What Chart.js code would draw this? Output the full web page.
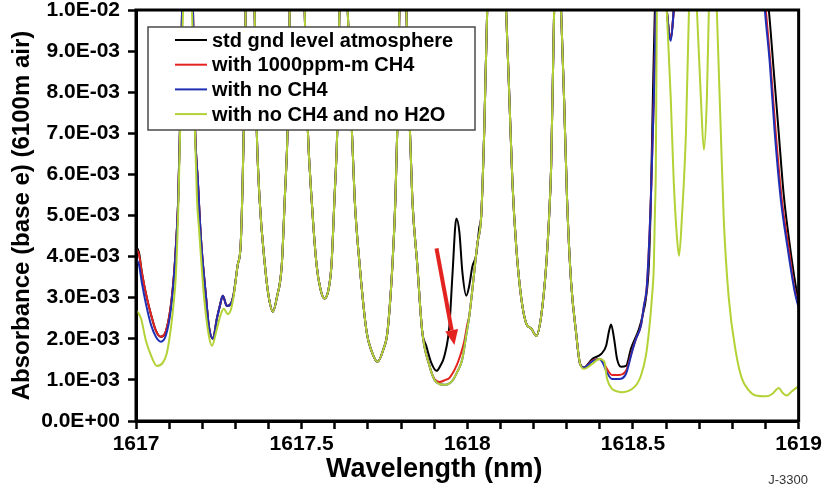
<!DOCTYPE html>
<html>
<head>
<meta charset="utf-8">
<script src="https://cdn.jsdelivr.net/npm/chart.js@4.4.1/dist/chart.umd.min.js"></script>
<style>
  body { margin: 0; background: #fff; }
  canvas { display: block; }
</style>
</head>
<body>
<canvas id="spectrum" width="825" height="492"></canvas>
<script>
// wavelengths in nm, absorbance in units of 1E-03 (scaled when the chart data is built)

// stretches where all four runs lie on top of each other
const sharedNmA = [1617.307, 1617.316, 1617.325, 1617.331, 1617.343, 1617.358, 1617.364, 1617.373, 1617.389, 1617.401,
  1617.413, 1617.425, 1617.440, 1617.449, 1617.458, 1617.464, 1617.485, 1617.509, 1617.518, 1617.530,
  1617.545, 1617.557, 1617.569, 1617.581, 1617.590, 1617.599, 1617.608, 1617.614, 1617.627, 1617.639,
  1617.651, 1617.660, 1617.675, 1617.696, 1617.711, 1617.729, 1617.747, 1617.759, 1617.774, 1617.783,
  1617.789, 1617.795, 1617.804, 1617.816, 1617.825, 1617.834, 1617.849, 1617.864];
const sharedAbsA = [3.8, 4.3, 7.0, 10, 14, 10, 7.2, 5.4, 3.8, 3.0,
  2.66, 3.0, 3.8, 5.4, 7.2, 10, 14, 10, 7.2, 5.4,
  3.8, 3.2, 2.98, 3.2, 3.8, 5.4, 7.2, 10, 13, 10,
  7.2, 5.4, 3.8, 2.17, 1.7, 1.44, 1.75, 2.17, 3.8, 5.4,
  7.2, 10, 13, 10, 7.5, 5.4, 3.8, 2.17];

const sharedNmB = [1618.051, 1618.060, 1618.087, 1618.117, 1618.127, 1618.136, 1618.148, 1618.163, 1618.178, 1618.193,
  1618.208, 1618.223, 1618.238, 1618.247, 1618.253, 1618.262, 1618.271, 1618.283, 1618.292, 1618.301,
  1618.313, 1618.328];
const sharedAbsB = [7.05, 10, 15, 10, 7.85, 5.83, 4.2, 2.98, 2.37, 2.25,
  2.07, 2.56, 3.78, 5.0, 6.2, 10, 13, 10, 7.85, 5.4,
  3.4, 2.17];

// std gnd level atmosphere (black)
const blackNmLeft = [1617.000, 1617.009, 1617.018, 1617.030, 1617.045, 1617.060, 1617.075, 1617.090, 1617.105, 1617.114,
  1617.120, 1617.127, 1617.133, 1617.139, 1617.157, 1617.172, 1617.178, 1617.187, 1617.196, 1617.211,
  1617.220, 1617.232, 1617.244, 1617.253, 1617.262, 1617.274, 1617.286, 1617.295];
const blackAbsLeft = [4.25, 4.1, 3.6, 3.1, 2.6, 2.2, 2.05, 2.18, 2.8, 3.5,
  4.2, 5.3, 7.2, 10, 15, 10, 7.2, 5.8, 4.44, 3.05,
  2.3, 2.0, 2.49, 2.8, 3.05, 2.8, 2.85, 3.1];
const blackNmMid = [1617.876, 1617.892, 1617.907, 1617.919, 1617.931, 1617.946, 1617.955, 1617.967, 1617.976, 1617.985,
  1617.997, 1618.006, 1618.015, 1618.027, 1618.036, 1618.042];
const blackAbsMid = [1.83, 1.4, 1.22, 1.35, 1.59, 2.32, 3.54, 4.93, 4.6, 3.63,
  3.05, 3.3, 3.75, 4.05, 4.7, 5.0];
const blackNmRight = [1618.340, 1618.352, 1618.377, 1618.404, 1618.419, 1618.428, 1618.434, 1618.443, 1618.452, 1618.464,
  1618.479, 1618.494, 1618.518, 1618.530, 1618.539, 1618.548, 1618.554, 1618.560, 1618.566, 1618.584,
  1618.602, 1618.614, 1618.623, 1618.639, 1618.699, 1618.819, 1618.880, 1618.910, 1618.925, 1618.940,
  1618.955, 1618.973, 1618.991, 1619.000];
const blackAbsRight = [1.4, 1.3, 1.51, 1.63, 1.83, 2.2, 2.35, 2.0, 1.51, 1.32,
  1.34, 1.76, 2.24, 2.6, 2.98, 3.8, 5.4, 7.85, 10, 12,
  10, 9.3, 10, 12, 15, 15, 12, 10, 8.5, 7.0,
  5.5, 4.3, 3.3, 2.9];

// with 1000ppm-m CH4 (red)
const redAbsLeft = [4.2, 4.05, 3.6, 3.1, 2.6, 2.2, 2.05, 2.18, 2.8, 3.5,
  4.2, 5.3, 7.2, 10, 15, 10, 7.2, 5.8, 4.44, 3.05,
  2.3, 2.0, 2.49, 2.8, 3.05, 2.8, 2.85, 3.1];
const redNmMid = [1617.886, 1617.901, 1617.916, 1617.934, 1617.946, 1617.967, 1617.982, 1617.991, 1618.000, 1618.006,
  1618.021, 1618.030, 1618.042];
const redAbsMid = [1.34, 1.02, 0.95, 1.0, 1.05, 1.34, 1.68, 1.95, 2.35, 2.56,
  3.63, 4.3, 5.0];
const redNmRight = [1618.340, 1618.352, 1618.377, 1618.398, 1618.410, 1618.419, 1618.437, 1618.458, 1618.479, 1618.497,
  1618.509, 1618.524, 1618.533, 1618.542, 1618.554, 1618.563, 1618.569, 1618.584, 1618.602, 1618.614,
  1618.623, 1618.639, 1618.699, 1618.819, 1618.880, 1618.901, 1618.916, 1618.931, 1618.949, 1618.970,
  1618.988, 1619.000];
const redAbsRight = [1.4, 1.3, 1.47, 1.51, 1.45, 1.3, 1.12, 1.12, 1.22, 1.7,
  2.0, 2.32, 2.8, 3.3, 5.4, 7.85, 10, 12, 10, 9.3,
  10, 12, 15, 15, 12, 10, 8.6, 7.0, 5.4, 4.2,
  3.2, 2.8];

// with no CH4 (blue)
const blueAbsLeft = [3.95, 3.8, 3.35, 2.85, 2.35, 2.05, 1.93, 2.08, 2.7, 3.45,
  4.15, 5.3, 7.2, 10, 15, 10, 7.2, 5.8, 4.44, 3.05,
  2.3, 2.0, 2.49, 2.8, 3.05, 2.8, 2.85, 3.1];
const blueNmRight = [1618.340, 1618.352, 1618.377, 1618.398, 1618.410, 1618.419, 1618.437, 1618.458, 1618.479, 1618.497,
  1618.509, 1618.524, 1618.533, 1618.542, 1618.554, 1618.563, 1618.569, 1618.584, 1618.602, 1618.614,
  1618.623, 1618.639, 1618.699, 1618.819, 1618.880, 1618.898, 1618.913, 1618.928, 1618.946, 1618.967,
  1618.988, 1619.000];
const blueAbsRight = [1.4, 1.3, 1.45, 1.51, 1.4, 1.22, 1.02, 1.02, 1.15, 1.68,
  2.0, 2.32, 2.8, 3.3, 5.4, 7.85, 10, 12, 10, 9.25,
  10, 12, 15, 15, 12, 10, 8.7, 7.0, 5.4, 4.2,
  3.15, 2.75];

// with no CH4 and no H2O (yellow-green)
const greenNmLeft = [1617.000, 1617.015, 1617.030, 1617.045, 1617.063, 1617.081, 1617.093, 1617.105, 1617.114, 1617.120,
  1617.127, 1617.133, 1617.142, 1617.157, 1617.169, 1617.178, 1617.184, 1617.190, 1617.205, 1617.220,
  1617.229, 1617.244, 1617.256, 1617.265, 1617.277, 1617.286, 1617.295];
const greenAbsLeft = [2.7, 2.5, 1.95, 1.6, 1.34, 1.42, 1.65, 2.24, 2.9, 3.5,
  5.0, 7.0, 10, 15, 10, 7.05, 5.4, 4.7, 3.05, 2.07,
  1.83, 2.24, 2.6, 2.73, 2.6, 2.7, 3.05];
const greenNmMid = [1617.886, 1617.901, 1617.916, 1617.934, 1617.955, 1617.970, 1617.985, 1617.997, 1618.006, 1618.021,
  1618.030, 1618.042];
const greenAbsMid = [1.34, 1.0, 0.9, 0.88, 0.98, 1.2, 1.51, 2.1, 2.56, 3.63,
  4.3, 5.0];
const greenNmRight = [1618.340, 1618.352, 1618.377, 1618.398, 1618.413, 1618.422, 1618.437, 1618.452, 1618.467, 1618.482,
  1618.497, 1618.512, 1618.524, 1618.539, 1618.548, 1618.557, 1618.563, 1618.566, 1618.569, 1618.572,
  1618.584, 1618.602, 1618.614, 1618.623, 1618.633, 1618.639, 1618.648, 1618.660, 1618.669, 1618.681,
  1618.693, 1618.705, 1618.714, 1618.723, 1618.729, 1618.741, 1618.753, 1618.765, 1618.774, 1618.789,
  1618.810, 1618.828, 1618.849, 1618.870, 1618.901, 1618.919, 1618.931, 1618.940, 1618.952, 1618.964,
  1618.979, 1619.000];
const greenAbsRight = [1.4, 1.27, 1.39, 1.51, 1.45, 1.02, 0.78, 0.72, 0.7, 0.72,
  0.78, 0.9, 1.1, 1.59, 2.17, 2.98, 3.8, 5.0, 6.2, 10,
  14, 10, 7.85, 5.83, 4.44, 4.02, 5.0, 7.05, 10, 12,
  10, 7.85, 6.6, 7.85, 10, 13, 10, 7.05, 4.9, 3.0,
  1.7, 1.05, 0.75, 0.62, 0.6, 0.65, 0.75, 0.8, 0.68, 0.62,
  0.72, 0.85];

// red arrow pointing at the CH4 line: [nm, absorbance 1E-03]
const arrowFrom = [1617.907, 4.2];
const arrowTo = [1617.961, 1.85];

const seriesNames = ['std gnd level atmosphere', 'with 1000ppm-m CH4', 'with no CH4', 'with no CH4 and no H2O'];
const seriesColors = ['#000000', '#e3231f', '#1f2fb5', '#b2d235'];

function pts(nm, abs) {
  return nm.map((x, i) => ({ x: x, y: abs[i] * 1e-3 }));
}

const blackData = [...pts(blackNmLeft, blackAbsLeft), ...pts(sharedNmA, sharedAbsA), ...pts(blackNmMid, blackAbsMid),
  ...pts(sharedNmB, sharedAbsB), ...pts(blackNmRight, blackAbsRight)];
const redData = [...pts(blackNmLeft, redAbsLeft), ...pts(sharedNmA, sharedAbsA), ...pts(redNmMid, redAbsMid),
  ...pts(sharedNmB, sharedAbsB), ...pts(redNmRight, redAbsRight)];
const blueData = [...pts(blackNmLeft, blueAbsLeft), ...pts(sharedNmA, sharedAbsA), ...pts(greenNmMid, greenAbsMid),
  ...pts(sharedNmB, sharedAbsB), ...pts(blueNmRight, blueAbsRight)];
const greenData = [...pts(greenNmLeft, greenAbsLeft), ...pts(sharedNmA, sharedAbsA), ...pts(greenNmMid, greenAbsMid),
  ...pts(sharedNmB, sharedAbsB), ...pts(greenNmRight, greenAbsRight)];

const FONT = '"Liberation Sans", Arial, Helvetica, sans-serif';
Chart.defaults.font.family = FONT;
Chart.defaults.color = '#000';

function sciLabel(v) {
  if (Math.abs(v) < 1e-12) return '0.0E+00';
  const exp = Math.floor(Math.log10(v) + 1e-9);
  const mant = v / Math.pow(10, exp);
  return mant.toFixed(1) + 'E' + (exp < 0 ? '-' : '+') + String(Math.abs(exp)).padStart(2, '0');
}

// legend box drawn inside the plot, over the lines
const legendBox = {
  id: 'legendBox',
  afterDatasetsDraw(chart) {
    const { ctx, chartArea } = chart;
    const x0 = chartArea.left + 12, y0 = chartArea.top + 17;
    ctx.save();
    ctx.fillStyle = '#fff';
    ctx.fillRect(x0, y0, 327, 103);
    ctx.strokeStyle = '#4a4a4a';
    ctx.lineWidth = 1.5;
    ctx.strokeRect(x0, y0, 327, 103);
    ctx.font = 'bold 20px ' + FONT;
    ctx.textBaseline = 'middle';
    chart.data.datasets.forEach((ds, i) => {
      const y = y0 + 13 + i * 24.7;
      ctx.strokeStyle = ds.borderColor;
      ctx.lineWidth = 2;
      ctx.beginPath();
      ctx.moveTo(x0 + 27, y);
      ctx.lineTo(x0 + 59, y);
      ctx.stroke();
      ctx.fillStyle = '#000';
      ctx.fillText(ds.label, x0 + 64, y + 1);
    });
    ctx.restore();
  }
};

const arrowMark = {
  id: 'arrowMark',
  afterDatasetsDraw(chart) {
    const { ctx, scales } = chart;
    const x1 = scales.x.getPixelForValue(arrowFrom[0]), y1 = scales.y.getPixelForValue(arrowFrom[1] * 1e-3);
    const x2 = scales.x.getPixelForValue(arrowTo[0]), y2 = scales.y.getPixelForValue(arrowTo[1] * 1e-3);
    const ang = Math.atan2(y2 - y1, x2 - x1);
    const head = 15, half = 6.5;
    const bx = x2 - head * Math.cos(ang), by = y2 - head * Math.sin(ang);
    ctx.save();
    ctx.strokeStyle = '#e3231f';
    ctx.fillStyle = '#e3231f';
    ctx.lineWidth = 4;
    ctx.beginPath();
    ctx.moveTo(x1, y1);
    ctx.lineTo(bx, by);
    ctx.stroke();
    ctx.beginPath();
    ctx.moveTo(x2, y2);
    ctx.lineTo(bx + half * Math.sin(ang), by - half * Math.cos(ang));
    ctx.lineTo(bx - half * Math.sin(ang), by + half * Math.cos(ang));
    ctx.closePath();
    ctx.fill();
    ctx.restore();
  }
};

// plot frame, x-axis title (sits a little left of centre in the original) and the figure tag
const frameAndTag = {
  id: 'frameAndTag',
  afterDraw(chart) {
    const { ctx, chartArea } = chart;
    ctx.save();
    ctx.strokeStyle = '#000';
    ctx.lineWidth = 3;
    ctx.strokeRect(chartArea.left, chartArea.top, chartArea.right - chartArea.left, chartArea.bottom - chartArea.top);
    ctx.fillStyle = '#000';
    ctx.textAlign = 'center';
    ctx.textBaseline = 'middle';
    ctx.font = 'bold 27px ' + FONT;
    ctx.fillText('Wavelength (nm)', chartArea.left + (chartArea.right - chartArea.left) * 0.45, chart.height - 22);
    ctx.font = '13px ' + FONT;
    ctx.fillStyle = '#333';
    ctx.textAlign = 'right';
    ctx.fillText('J-3300', chart.width - 17, chart.height - 12);
    ctx.restore();
  }
};

function line(i, data, order) {
  return {
    label: seriesNames[i],
    data: data,
    borderColor: seriesColors[i],
    backgroundColor: seriesColors[i],
    borderWidth: 2,
    pointRadius: 0,
    cubicInterpolationMode: 'monotone',
    order: order
  };
}

new Chart(document.getElementById('spectrum'), {
  type: 'line',
  data: {
    datasets: [
      line(0, blackData, 3),
      line(1, redData, 2),
      line(2, blueData, 1),
      line(3, greenData, 0)
    ]
  },
  options: {
    responsive: false,
    animation: false,
    devicePixelRatio: 1,
    layout: { padding: { top: 10, right: 25, left: 0, bottom: 0 } },
    plugins: { legend: { display: false }, tooltip: { enabled: false } },
    scales: {
      x: {
        type: 'linear',
        min: 1617,
        max: 1619,
        afterFit(scale) { scale.height = 71; },
        ticks: {
          stepSize: 0.1,
          autoSkip: false,
          maxRotation: 0,
          padding: 3,
          font: { size: 21, weight: 'bold' },
          callback(v) {
            const r = Math.round(v * 10) / 10;
            return Math.abs(r * 2 - Math.round(r * 2)) < 1e-6 ? String(r) : '';
          }
        },
        grid: { drawOnChartArea: false, drawTicks: true, tickLength: 8, tickWidth: 2.5, tickColor: '#000' },
        border: { display: true, color: '#000', width: 3 },
        title: { display: false }
      },
      y: {
        min: 0,
        max: 0.01,
        afterFit(scale) {
          scale.width = 136;
          scale.paddingTop = 0;
          scale.paddingBottom = 0;
        },
        ticks: {
          stepSize: 0.001,
          padding: 8,
          font: { size: 21, weight: 'bold' },
          callback: (v) => sciLabel(v)
        },
        grid: { drawOnChartArea: false, drawTicks: true, tickLength: 8, tickWidth: 2.5, tickColor: '#000' },
        border: { display: true, color: '#000', width: 3 },
        title: {
          display: true,
          text: 'Absorbance (base e) (6100m air)',
          font: { size: 24, weight: 'bold' },
          padding: { top: 8, bottom: 0 }
        }
      }
    }
  },
  plugins: [legendBox, arrowMark, frameAndTag]
});
</script>
</body>
</html>
